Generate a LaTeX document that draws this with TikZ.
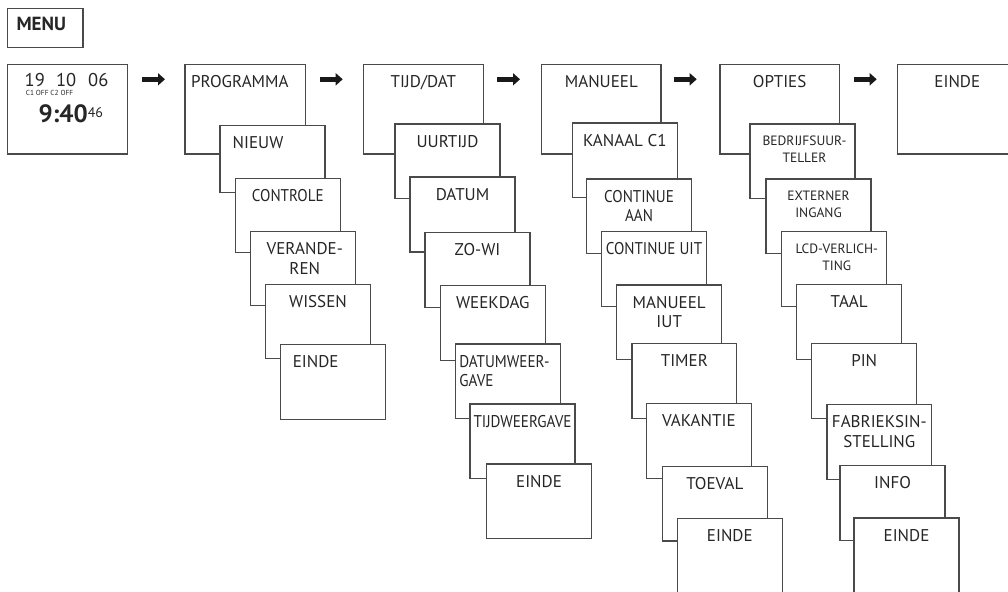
\documentclass[tikz,border=0pt]{standalone}
\usepackage{fontspec}
\setmainfont{PT Sans}
\newfontfamily\narrowf{PT Sans}[FakeStretch=0.89]
\usetikzlibrary{arrows.meta,calc}
\definecolor{ln}{HTML}{4A4A4A}
\definecolor{tx}{HTML}{262626}
\tikzset{
 boxst/.style={draw=ln, line width=1.3pt, fill=white, anchor=north west, inner sep=0pt, outer sep=0pt},
 lbl/.style={anchor=north, inner sep=0pt, outer sep=0pt, text=tx, align=center, font=\fontsize{17}{19.5}\selectfont},
 smalltxt/.style={font=\fontsize{13.5}{17.3}\selectfont, yshift=-1pt},
 arr/.style={line width=4.5pt, -{Triangle[length=7pt,width=12pt]}, black!90},
 plain/.style={inner sep=0pt, outer sep=0pt, text=tx},
}
\newcommand\mybox[7][]{%
  \node[boxst, minimum width={#5pt-#3pt}, minimum height={#6pt-#4pt}] (#2) at (#3,#4) {};
  \node[lbl,#1] (#2t) at ($(#2.north)+(0,11)$) {#7};}
\begin{document}
\begin{tikzpicture}[x=1pt,y=-1pt]
\useasboundingbox (0,0) rectangle (1008,591);
\clip (0,0) rectangle (1008,591);
% MENU
\node[boxst, minimum width=75.7pt, minimum height=39.4pt] (menu) at (7.3,8.3) {};
\node[plain, font=\fontsize{19}{19}\selectfont\bfseries] (menut) at (41.3,24) {MENU};
% clock
\node[boxst, minimum width=120.4pt, minimum height=89.7pt] (clock) at (7.3,64.3) {};
\node[plain, font=\fontsize{18.5}{18.5}\selectfont] (d1) at (34.8,80.2) {19};
\node[plain, font=\fontsize{18.5}{18.5}\selectfont] (d2) at (66.2,80.2) {10};
\node[plain, font=\fontsize{18.5}{18.5}\selectfont] (d3) at (98.3,80.2) {06};
\node[plain, font=\fontsize{7.3}{7.3}\selectfont] (chan) at (49.5,93) {C1 OFF C2 OFF};
\node[plain, anchor=base west, font=\fontsize{25}{25}\selectfont\bfseries] (time) at (38.5,122) {9:40};
\node[plain, anchor=base west, font=\fontsize{14}{14}\selectfont, yshift=4.5pt] (secs) at (time.base east) {46};
% PROGRAMMA column
\mybox[xshift=-5.5pt]{p0}{185}{64.3}{305.7}{154}{PROGRAMMA}
\mybox[xshift=-14.5pt]{p1}{220}{125.3}{325}{192.7}{NIEUW}
\mybox{p2}{235.3}{178.3}{340.3}{252.3}{\narrowf CONTROLE}
\mybox[xshift=2pt]{p3}{250.3}{231.7}{355.3}{305.7}{VERANDE-\\REN}
\mybox{p4}{265.3}{284.3}{370.7}{358.3}{WISSEN}
\mybox[xshift=-17.3pt]{p5}{280.3}{344.7}{385.7}{419.3}{EINDE}
% TIJD/DAT column
\mybox{t0}{363.3}{64.3}{483.3}{154}{TIJD/DAT}
\mybox{t1}{395}{124}{500}{198.3}{UURTIJD}
\mybox{t2}{410}{177}{515}{252}{DATUM}
\mybox{t3}{425}{232.7}{530}{307.3}{ZO-WI}
\mybox{t4}{440.3}{285.7}{545.3}{360.7}{WEEKDAG}
\mybox[anchor=north west, align=left, xshift=-48.7pt, font=\fontsize{17}{19.5}\narrowf]{t5}{455.3}{344}{560.7}{418.3}{DATUMWEER-\\GAVE}
\mybox[font=\fontsize{17}{19.5}\narrowf]{t6}{470}{404}{575}{478.3}{TIJDWEERGAVE}
\mybox{t7}{486.3}{464}{591.7}{538.3}{EINDE}
% MANUEEL column
\mybox{m0}{541.7}{64.3}{661}{154}{MANUEEL}
\mybox{m1}{572.3}{123}{677.3}{197.7}{KANAAL C1}
\mybox[font=\fontsize{17}{19.5}\narrowf]{m2}{586.3}{179}{691.7}{253.3}{CONTINUE\\AAN}
\mybox[font=\fontsize{17}{19.5}\narrowf]{m3}{601.3}{231.7}{706.7}{306.7}{CONTINUE UIT}
\mybox{m4}{616.7}{285}{721.7}{359.3}{MANUEEL\\IUT}
\mybox{m5}{632}{343.3}{736.7}{418.3}{TIMER}
\mybox{m6}{646.3}{403.7}{751.3}{478.3}{VAKANTIE}
\mybox{m7}{662.3}{466.7}{767.3}{541}{TOEVAL}
\mybox{m8}{677.3}{518.3}{782.3}{596}{EINDE}
% OPTIES column
\mybox{o0}{720}{64.3}{839.3}{154}{OPTIES}
\mybox[smalltxt, xshift=2pt]{o1}{750}{124}{855}{198.3}{BEDRIJFSUUR-\\TELLER}
\mybox[smalltxt]{o2}{766}{179}{871}{253.3}{EXTERNER\\INGANG}
\mybox[smalltxt, xshift=3pt]{o3}{781.3}{231.7}{886.3}{306.7}{LCD-VERLICH-\\TING}
\mybox{o4}{796.7}{284.3}{901.7}{359.3}{TAAL}
\mybox{o5}{811.7}{343.7}{916.7}{418.3}{PIN}
\mybox{o6}{827}{404.7}{931.7}{479.3}{FABRIEKSIN-\\STELLING}
\mybox{o7}{840}{465.7}{945}{540.7}{INFO}
\mybox{o8}{854}{518}{959}{596}{EINDE}
% final EINDE
\mybox{e0}{897.3}{64.3}{1017.3}{154}{EINDE}
% arrows
\draw[arr] ($(clock.north east)+(14.3,15)$) -- ($(p0.north west)+(-20,15)$);
\draw[arr] ($(p0.north east)+(14.3,15)$) -- ($(t0.north west)+(-20.6,15)$);
\draw[arr] ($(t0.north east)+(14,15)$) -- ($(m0.north west)+(-21.7,15)$);
\draw[arr] ($(m0.north east)+(13,15)$) -- ($(o0.north west)+(-23.3,15)$);
\draw[arr] ($(o0.north east)+(14.7,15)$) -- ($(e0.north west)+(-20.6,15)$);
\end{tikzpicture}
\end{document}
